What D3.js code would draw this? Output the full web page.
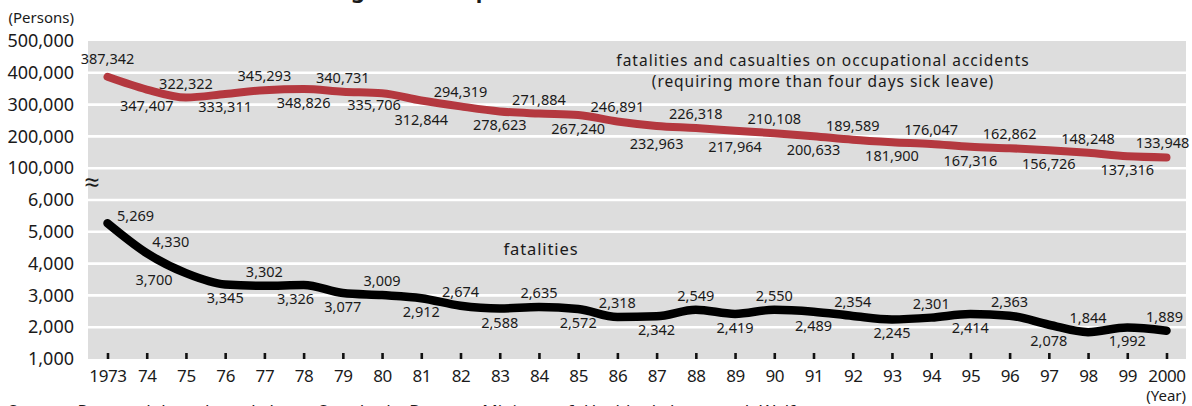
<!DOCTYPE html>
<html>
<head>
<meta charset="utf-8">
<script src="https://cdn.jsdelivr.net/npm/d3@7"></script>
<style>
  html, body { margin: 0; padding: 0; background: #fff; }
  svg { display: block; font-family: "Noto Sans", "Open Sans", sans-serif; }
</style>
</head>
<body>
<svg id="chart" width="1192" height="406"></svg>
<script>
// ---------------- data ----------------
const years = [1973,1974,1975,1976,1977,1978,1979,1980,1981,1982,1983,1984,1985,1986,1987,
               1988,1989,1990,1991,1992,1993,1994,1995,1996,1997,1998,1999,2000];
const yearLabels = ["1973","74","75","76","77","78","79","80","81","82","83","84","85","86","87",
                    "88","89","90","91","92","93","94","95","96","97","98","99","2000"];
const casualties = [387342,347407,322322,333311,345293,348826,340731,335706,312844,294319,278623,
                    271884,267240,246891,232963,226318,217964,210108,200633,189589,181900,176047,
                    167316,162862,156726,148248,137316,133948];
const fatalities = [5269,4330,3700,3345,3302,3326,3077,3009,2912,2674,2588,2635,2572,2318,2342,
                    2549,2419,2550,2489,2354,2245,2301,2414,2363,2078,1844,1992,1889];
const upperTicks = [100000,200000,300000,400000,500000];
const lowerTicks = [1000,2000,3000,4000,5000,6000];
const casualtyName = ["fatalities and casualties on occupational accidents",
                      "(requiring more than four days sick leave)"];
const fatalityName = "fatalities";
const titleText = "Changes in Occupational Accidents";
const sourceText = "Source: Prepared based on Labour Standards Bureau, Ministry of Health, Labour and Welfare";
const unitY = "(Persons)";
const unitX = "(Year)";
// label side: "a" = above the line, "b" = below, "r"/"l" = beside
const casualtySide = ["a","b","a","b","a","b","a","b","b","a","b","a","b","a","b","a","b","a","b","a","b","a","b","a","b","a","b","a"];
const fatalitySide = ["r","r","l","b","a","b","b","a","b","a","b","a","b","a","b","a","b","a","b","a","b","a","b","a","b","a","b","a"];

// ---------------- layout ----------------
const svg = d3.select("#chart");
const L = 88, R = 1186, T = 41, B = 359;
const step = (B - T) / 10;
const x = d3.scaleLinear().domain([1973, 2000]).range([107.5, 1166.5]);
const yU = d3.scaleLinear().domain([100000, 500000]).range([T + 4 * step, T]);
const yL = d3.scaleLinear().domain([1000, 6000]).range([B, B - 5 * step]);
const fmt = d3.format(",");
const ink = "#1a1a1a";
const red = "#b4383f";

// title (mostly above the visible area)
svg.append("text").attr("x", 295).attr("y", -2)
  .attr("font-size", 22).attr("font-weight", "bold").attr("fill", ink).text(titleText);

// background
svg.append("rect").attr("x", L).attr("y", T).attr("width", R - L).attr("height", B - T)
  .attr("fill", "#dddddd");

// grid lines
const gridY = upperTicks.filter(v => v < 500000).map(v => yU(v))
  .concat(lowerTicks.filter(v => v > 1000).map(v => yL(v)));
svg.append("g").selectAll("line").data(gridY).join("line")
  .attr("x1", L).attr("x2", R).attr("y1", d => d).attr("y2", d => d)
  .attr("stroke", "#fff").attr("stroke-width", 2.6);

// y axes
function styleAxis(g) {
  g.select(".domain").remove();
  g.selectAll(".tick line").remove();
  g.selectAll(".tick text").attr("font-size", 18).attr("fill", ink)
    .attr("font-family", "Noto Sans, sans-serif");
}
svg.append("g").attr("transform", "translate(74,0)")
  .call(d3.axisLeft(yU).tickValues(upperTicks).tickFormat(fmt).tickSize(0).tickPadding(0))
  .call(styleAxis);
svg.append("g").attr("transform", "translate(74,0)")
  .call(d3.axisLeft(yL).tickValues(lowerTicks).tickFormat(fmt).tickSize(0).tickPadding(0))
  .call(styleAxis);

// break mark
svg.append("text").attr("x", 92).attr("y", 192).attr("text-anchor", "middle")
  .attr("font-size", 27).attr("fill", ink).text("\u2248");

// x axis
const xa = svg.append("g").attr("transform", `translate(0,${B - 6})`)
  .call(d3.axisBottom(x).tickValues(years).tickFormat((d, i) => yearLabels[i])
        .tickSize(6).tickPadding(11));
xa.select(".domain").remove();
xa.selectAll(".tick line").attr("stroke", "#111").attr("stroke-width", 2.6);
xa.selectAll(".tick text").attr("font-size", 17).attr("fill", ink)
  .attr("font-family", "Noto Sans, sans-serif").attr("letter-spacing", "-0.4");

// units
svg.append("text").attr("x", 74).attr("y", 23).attr("text-anchor", "end")
  .attr("font-size", 15).attr("fill", ink).text(unitY);
svg.append("text").attr("x", 1186).attr("y", 401).attr("text-anchor", "end")
  .attr("font-size", 15).attr("fill", ink).text(unitX);

// lines
const lineU = d3.line().x((d, i) => x(years[i])).y(d => yU(d)).curve(d3.curveMonotoneX);
const lineL = d3.line().x((d, i) => x(years[i])).y(d => yL(d)).curve(d3.curveMonotoneX);
svg.append("path").attr("d", lineU(casualties)).attr("fill", "none")
  .attr("stroke", red).attr("stroke-width", 8).attr("stroke-linecap", "round").attr("stroke-linejoin", "round");
svg.append("path").attr("d", lineL(fatalities)).attr("fill", "none")
  .attr("stroke", "#000").attr("stroke-width", 8.5).attr("stroke-linecap", "round").attr("stroke-linejoin", "round");

// value labels
function offset(side) {
  switch (side) {
    case "a": return [0, -9];
    case "b": return [0, 19];
    case "r": return [24, -2];
    case "l": return [-32, 12];
  }
}
function drawLabels(vals, sides, y, extra) {
  svg.append("g").selectAll("text").data(vals).join("text")
    .attr("x", (d, i) => x(years[i]) + offset(sides[i])[0] + (extra[i] ? extra[i][0] : 0))
    .attr("y", (d, i) => y(d) + offset(sides[i])[1] + (extra[i] ? extra[i][1] : 0))
    .attr("text-anchor", "middle").attr("font-size", 14.5).attr("fill", ink)
    .text(d => fmt(d));
}
drawLabels(casualties, casualtySide, yU,
  {0: [0, -4], 1: [0, 2], 3: [0, -1], 7: [-8, -2], 8: [0, 5], 14: [0, 4], 16: [0, 2], 27: [-4, 0]});
drawLabels(fatalities, fatalitySide, yL, {0: [4, 0], 1: [0, -4], 5: [-8, 0], 24: [0, 2], 27: [-2, 0]});

// series names
svg.append("g").selectAll("text").data(casualtyName).join("text")
  .attr("x", 823).attr("y", (d, i) => 65.5 + i * 21).attr("text-anchor", "middle")
  .attr("font-size", 15.5).attr("letter-spacing", (d, i) => i ? 0.95 : 1.0)
  .attr("fill", ink).text(d => d);
svg.append("text").attr("x", 541).attr("y", 255).attr("text-anchor", "middle")
  .attr("font-size", 16.5).attr("letter-spacing", 0.9).attr("fill", ink).text(fatalityName);

// source (cut at the bottom edge)
svg.append("text").attr("x", 8).attr("y", 417).attr("font-size", 17).attr("fill", ink)
  .attr("word-spacing", "6").text(sourceText);
</script>
</body>
</html>
